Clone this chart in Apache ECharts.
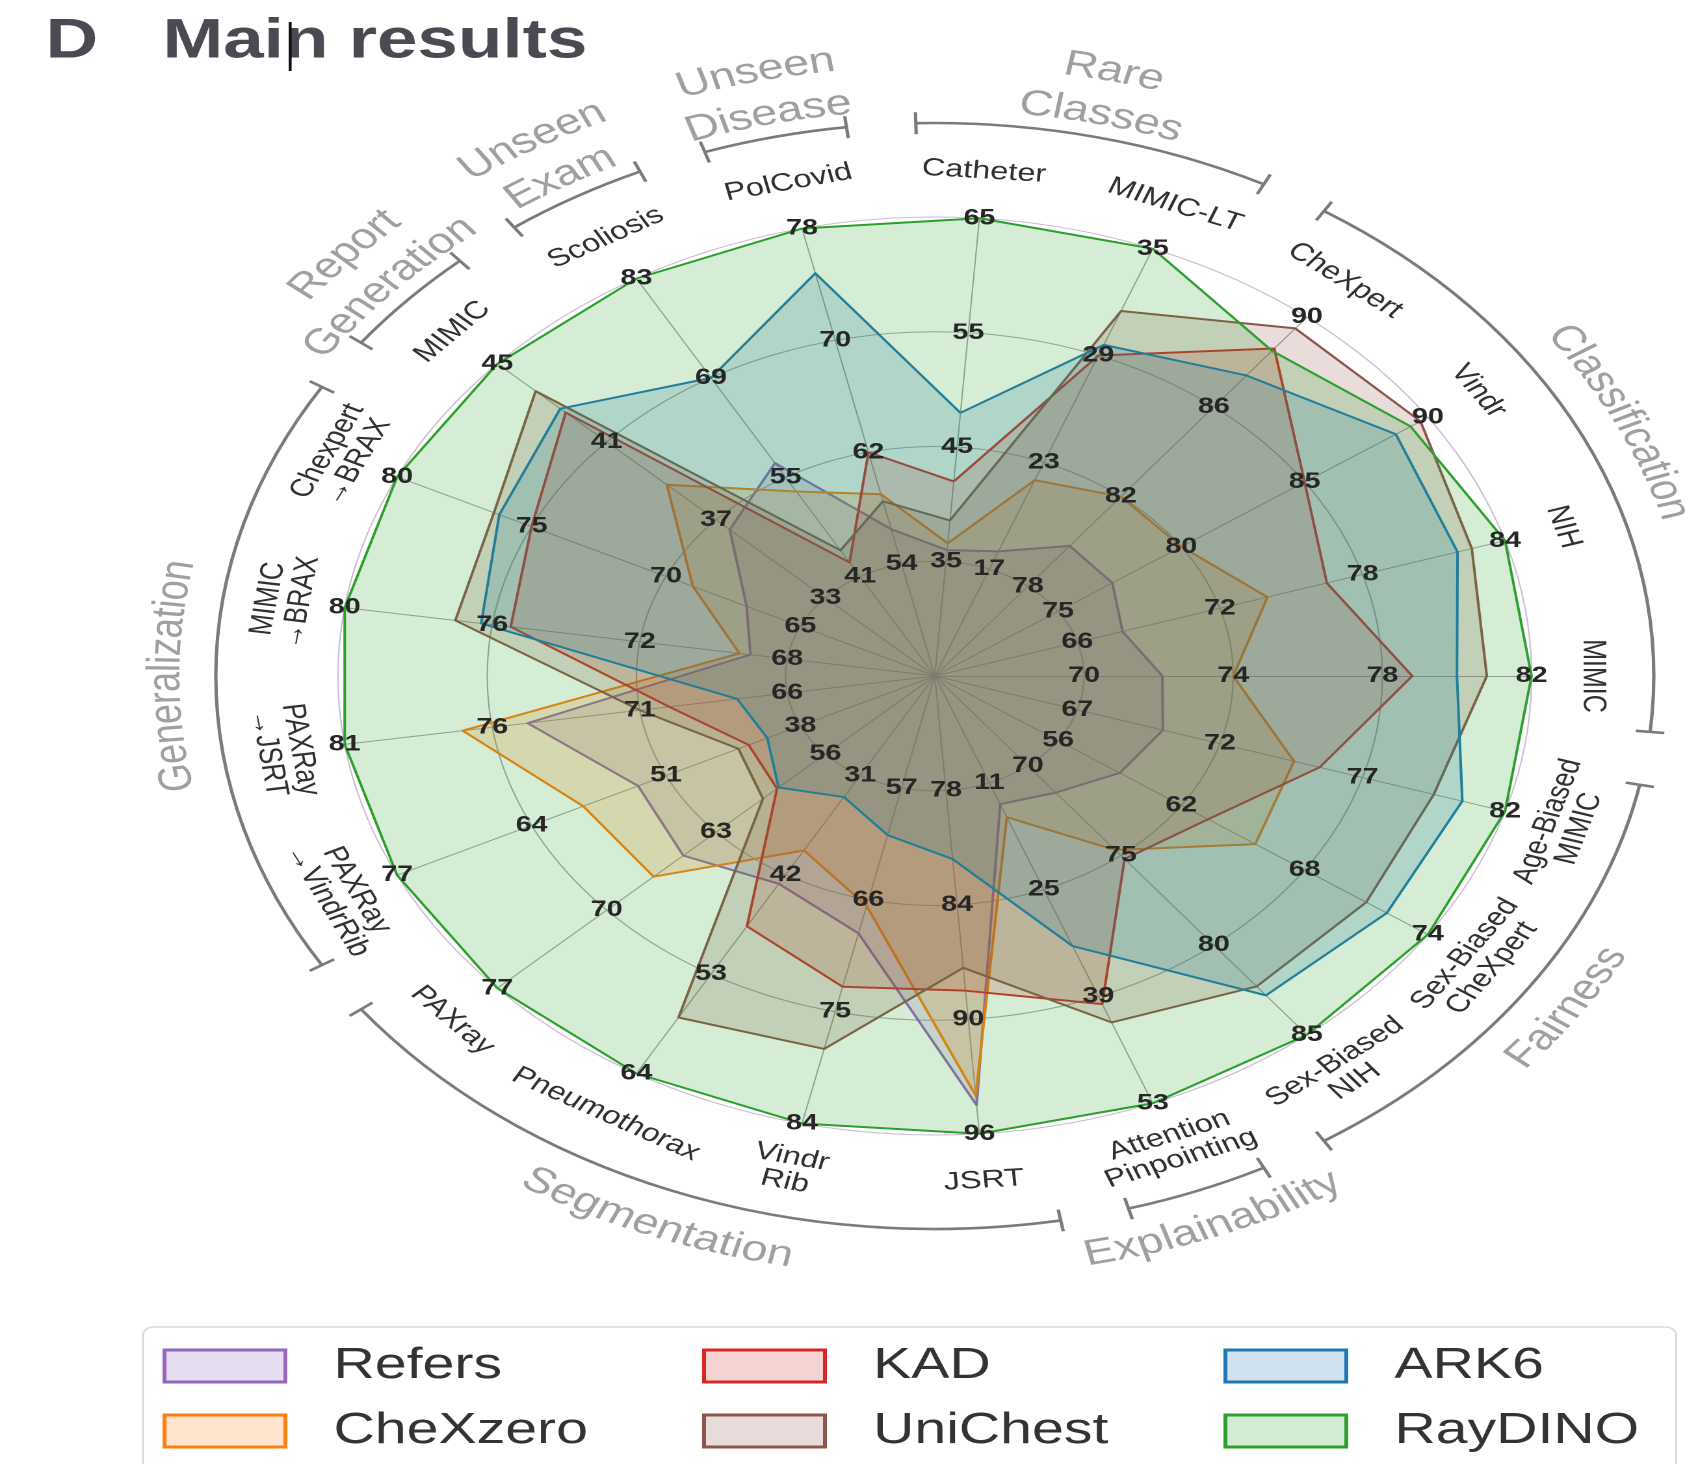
<!DOCTYPE html>
<html><head><meta charset="utf-8">
<script src="https://cdn.jsdelivr.net/npm/echarts@6/dist/echarts.min.js"></script>
<style>
html,body{margin:0;padding:0;background:#fff;overflow:hidden;}
#wrap{width:1296px;height:1464px;transform:scaleX(1.30015);transform-origin:0 0;}
#chart{width:1296px;height:1464px;}
</style></head><body><div id="wrap"><div id="chart"></div></div>
<script>
// ---- data (clockwise from the top axis) ----
const categories = ['Catheter','MIMIC-LT','CheXpert','Vindr','NIH','MIMIC','Age-Biased\nMIMIC','Sex-Biased\nCheXpert','Sex-Biased\nNIH','Attention\nPinpointing','JSRT','Vindr\nRib','Pneumothorax','PAXray','PAXRay\n→VindrRib','PAXRay\n→JSRT','MIMIC\n→BRAX','Chexpert\n→BRAX','MIMIC','Scoliosis','PolCovid'];
const axisMax  = [65, 35, 90, 90, 84, 82, 82, 74, 85, 53, 96, 84, 64, 77, 77, 81, 80, 80, 45, 83, 78];
const tickStep = [10,  6,  4,  5,  6,  4,  5,  6,  5, 14,  6,  9, 11,  7, 13,  5,  4,  5,  4, 14,  8];
const refers   = [36, 18, 79.8, 77.2, 67.9, 72.1, 70, 59, 71.5, 13.8, 94.5, 68.7, 43, 65.1, 53.7, 74.8, 69, 67, 36.5, 57, 56.5];
const chexzero = [36.6, 22, 82, 80, 74, 74, 74.6, 65.6, 74.7, 15.5, 94, 66.5, 39.3, 67, 59, 77, 69.3, 69, 38.8, 53, 59];
const kad      = [42, 29, 88.6, 85, 76.5, 78.8, 75.5, 63.3, 75.2, 40, 88.5, 73, 47.7, 59.1, 43, 70, 75.5, 75, 42.5, 43, 62];
const unichest = [38.6, 31.5, 89.5, 89.7, 82.6, 80.8, 79.5, 71, 82.3, 42.4, 87.3, 78, 57.8, 60, 44, 71, 77, 76.4, 43.6, 44.7, 58.5];
const ark6     = [48, 29.6, 87.4, 88.7, 82, 80, 80.5, 72, 82.8, 32.4, 81.6, 60.8, 33.4, 59, 41.2, 67.7, 76.3, 76.2, 42.7, 69, 74.8];
const raydino  = [65, 35, 88.5, 89.3, 84, 82, 82, 74, 85, 53, 96, 84, 64, 77, 77, 81, 80, 80, 45, 83, 78];
const groups = [
  {label:['Rare','Classes'], from:0, to:1},
  {label:['Classification'], from:2, to:5},
  {label:['Fairness'], from:6, to:8},
  {label:['Explainability'], from:9, to:9},
  {label:['Segmentation'], from:10, to:13},
  {label:['Generalization'], from:14, to:17},
  {label:['Report','Generation'], from:18, to:18},
  {label:['Unseen','Exam'], from:19, to:19},
  {label:['Unseen','Disease'], from:20, to:20}
];
const seriesDefs = [
  {name:'Refers',   values:refers,   color:'#9467bd', light:'#e6ddf0'},
  {name:'CheXzero', values:chexzero, color:'#ff7f0e', light:'#ffe3cc'},
  {name:'KAD',      values:kad,      color:'#d62728', light:'#f6d3d3'},
  {name:'UniChest', values:unichest, color:'#8c564b', light:'#e8dcda'},
  {name:'ARK6',     values:ark6,     color:'#1f77b4', light:'#d0e2f0'},
  {name:'RayDINO',  values:raydino,  color:'#2ca02c', light:'#d3ecd3'}
];
// legend grid: [row][column]
const legendRows = [['Refers','KAD','ARK6'],['CheXzero','UniChest','RayDINO']];

// ---- layout ----
const FONT = '"Liberation Sans", Arial, Helvetica, sans-serif';
const CX = 719, CY = 676, R = 459;
const N = categories.length;
const STEP = 360 / N;
const OFFSET = STEP / 4;
function ang(i){ return OFFSET + i * STEP; }
function pt(th, r){ const t = th * Math.PI / 180; return [CX + r * Math.sin(t), CY - r * Math.cos(t)]; }
function norm(th){ return ((th % 360) + 360) % 360; }
function isBottom(th){ th = norm(th); return th > 90.5 && th < 269.5; }

// ECharts radar runs counter-clockwise: reorder so that categories run clockwise
const order = [0].concat(Array.from({length: N - 1}, (_, j) => N - 1 - j));
const indicators = order.map(i => ({
  name: categories[i].replace('\n', ' '),
  max: axisMax[i],
  min: axisMax[i] - 4 * tickStep[i]
}));

const graphics = [];
// axis names
categories.forEach((c, i) => {
  const th = ang(i);
  const p = pt(th, 506);
  const rot = isBottom(th) ? th - 180 : th;
  graphics.push({type:'text', x:p[0], y:p[1], rotation:-rot * Math.PI / 180, silent:true,
    style:{text:c, fontSize:25, fontFamily:FONT, fill:'#303030', align:'center', verticalAlign:'middle', lineHeight:25}});
});
// group arcs and curved labels
const mctx = document.createElement('canvas').getContext('2d');
function curvedText(text, thC, r, size, fill){
  mctx.font = size + 'px ' + FONT;
  const chars = [...text];
  const widths = chars.map(ch => mctx.measureText(ch).width);
  const total = widths.reduce((a, b) => a + b, 0);
  const bottom = isBottom(thC);
  const span = total / r * 180 / Math.PI;
  let cum = 0;
  chars.forEach((ch, k) => {
    const mid = (cum + widths[k] / 2) / r * 180 / Math.PI;
    cum += widths[k];
    const th = bottom ? thC + span / 2 - mid : thC - span / 2 + mid;
    const p = pt(th, r);
    const rot = bottom ? th - 180 : th;
    graphics.push({type:'text', x:p[0], y:p[1], rotation:-rot * Math.PI / 180, silent:true,
      style:{text:ch, fontSize:size, fontFamily:FONT, fill:fill, align:'center', verticalAlign:'middle'}});
  });
}
const ARC_R = 553, PAD = 5.8;
groups.forEach(g => {
  const t1 = ang(g.from) - PAD, t2 = ang(g.to) + PAD;
  graphics.push({type:'arc', silent:true,
    shape:{cx:CX, cy:CY, r:ARC_R, startAngle:(t1 - 90) * Math.PI / 180, endAngle:(t2 - 90) * Math.PI / 180, clockwise:true},
    style:{stroke:'#7b7b7b', lineWidth:2.6, fill:'none'}});
  [t1, t2].forEach(t => {
    const a = pt(t, ARC_R - 11), b = pt(t, ARC_R + 11);
    graphics.push({type:'line', silent:true, shape:{x1:a[0], y1:a[1], x2:b[0], y2:b[1]}, style:{stroke:'#7b7b7b', lineWidth:2.6}});
  });
  const thC = (ang(g.from) + ang(g.to)) / 2;
  if (g.label.length === 1) {
    curvedText(g.label[0], thC, 591, 36, '#a0a0a0');
  } else {
    curvedText(g.label[0], thC, 620, 36, '#a0a0a0');
    curvedText(g.label[1], thC, 576, 36, '#a0a0a0');
  }
});
// title
graphics.push({type:'text', x:35, y:42, silent:true, style:{text:'D', fontSize:56, fontWeight:'bold', fontFamily:FONT, fill:'#4a4a52', verticalAlign:'middle'}});
graphics.push({type:'text', x:125, y:42, silent:true, style:{text:'Main results', fontSize:56, fontWeight:'bold', fontFamily:FONT, fill:'#4a4a52', verticalAlign:'middle'}});
graphics.push({type:'rect', silent:true, shape:{x:222, y:22, width:2.3, height:49}, style:{fill:'#111'}});
// legend frame
graphics.push({type:'rect', silent:true, z:1, shape:{x:110, y:1327, width:1179, height:170, r:8}, style:{fill:'#fff', stroke:'#d6d6d6', lineWidth:1.3}});

const byName = {};
seriesDefs.forEach(s => byName[s.name] = s);

const legendLeft = [125, 540, 941], legendTop = [1344, 1409];
const legends = [];
legendRows.forEach((row, r) => row.forEach((n, c) => {
  legends.push({
    left:legendLeft[c], top:legendTop[r], itemWidth:93, itemHeight:32, padding:0,
    icon:'rect', selectedMode:false, z:5,
    data:[{name:n, itemStyle:{color:byName[n].light, borderColor:byName[n].color, borderWidth:3}}],
    formatter: x => '{g|\u2009}{t|' + x + '}',
    textStyle:{rich:{g:{width:32}, t:{fontSize:44, color:'#333', fontFamily:FONT}}}
  });
}));

const option = {
  animation:false,
  backgroundColor:'#fff',
  radar:[
    {
      center:[CX, CY], radius:R, startAngle:90 - OFFSET, shape:'circle', splitNumber:4,
      indicator:indicators,
      axisName:{show:false},
      axisLine:{lineStyle:{color:'#a3a3a3', width:1}},
      splitLine:{lineStyle:{color:['#a8a8a8','#a8a8a8','#a8a8a8','#a8a8a8','#cbbcd5'], width:1.1}},
      splitArea:{show:false}
    },
    {
      center:[CX, CY], radius:R, startAngle:90 - OFFSET, shape:'circle', splitNumber:4, z:10,
      indicator:indicators,
      axisName:{show:false},
      axisLine:{show:false},
      splitLine:{show:false},
      splitArea:{show:false},
      axisLabel:{show:true, margin:0, align:'center', verticalAlign:'middle', fontSize:22, fontWeight:'bold',
        fontFamily:FONT, color:'#262626', formatter:function(v, idx){ return idx === 0 ? '' : String(v); }}
    }
  ],
  legend: legends,
  graphic: graphics,
  series: seriesDefs.map(s => ({
    type:'radar', radarIndex:0, symbol:'none', name:s.name,
    data:[{
      name:s.name,
      value: order.map(i => s.values[i]),
      lineStyle:{color:s.color, width:2},
      itemStyle:{color:s.color},
      areaStyle:{color:s.color, opacity:0.2}
    }]
  }))
};
const chart = echarts.init(document.getElementById('chart'), null, {renderer:'canvas', devicePixelRatio:2});
chart.setOption(option);
</script></body></html>
